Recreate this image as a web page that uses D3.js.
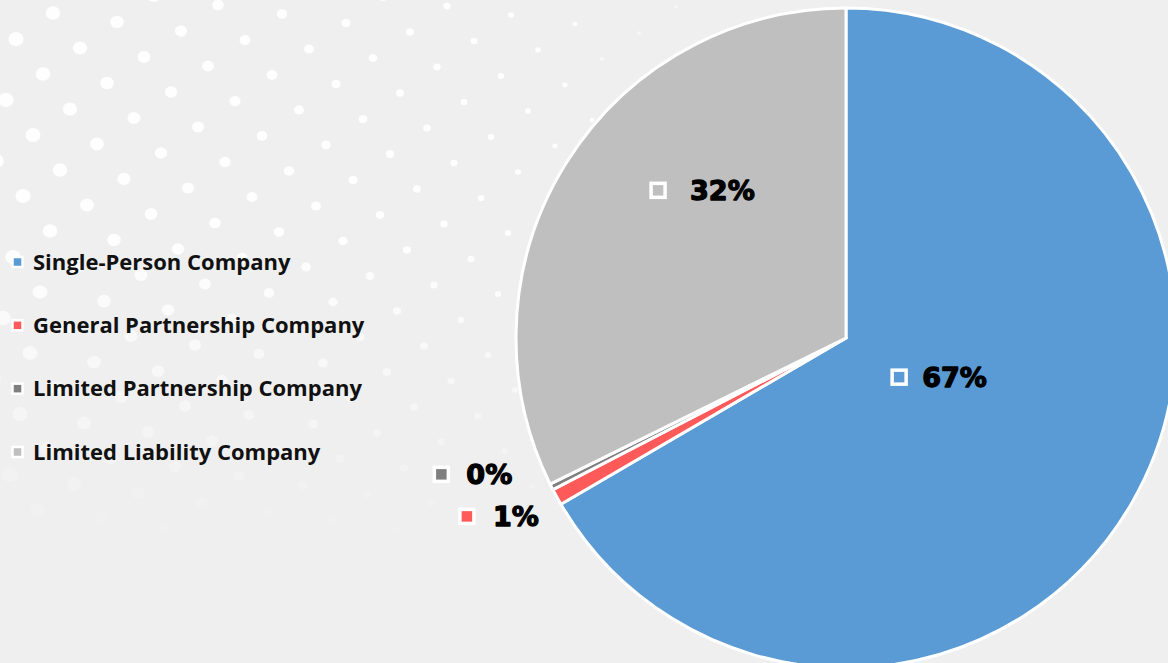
<!DOCTYPE html>
<html>
<head>
<meta charset="utf-8">
<script src="https://cdn.jsdelivr.net/npm/d3@7"></script>
<style>
  html, body { margin: 0; padding: 0; background: #efefef; }
  svg { display: block; }
</style>
</head>
<body>
<div id="chart"></div>
<script>
// chart data
const categories = ["Single-Person Company", "General Partnership Company", "Limited Partnership Company", "Limited Liability Company"];
const shares = [66.6, 0.8, 0.3, 32.3];
const colors = ["#5b9bd5", "#ff5a5a", "#7f7f7f", "#bfbfbf"];

const width = 1168, height = 663;
const cx = 846, cy = 338, R = 330;

// where each data label sits: radius from centre and angle shift (deg) from slice middle
const labelLayout = [
  { r: 66, shift: 6.5, gap: 23 },
  { r: 419, shift: 3.6, gap: 26 },
  { r: 427, shift: 8.2, gap: 25 },
  { r: 239, shift: 6.3, gap: 32 }
];

const svg = d3.select("#chart").append("svg")
  .attr("width", width)
  .attr("height", height);

svg.append("rect").attr("width", width).attr("height", height).attr("fill", "#efefef");

// decorative dot pattern in the background
const dots = [];
for (let i = -12; i < 22; i++) {
  for (let j = -4; j < 26; j++) {
    const x = 53 + i * 64 - j * 37;
    const y = 13 + i * 9 + j * 26;
    if (x < -10 || x > width + 10 || y < -10 || y > 600) continue;
    const rad = 7.2 - x * 0.0085;
    const op = y < 250 ? 1 : Math.max(0, 1 - (y - 250) / 300);
    if (rad < 1.2 || op <= 0.05) continue;
    dots.push({ x, y, rad, op: op * (x > 600 ? 0.6 : 1) });
  }
}
svg.append("g").selectAll("ellipse").data(dots).join("ellipse")
  .attr("cx", d => d.x).attr("cy", d => d.y)
  .attr("rx", d => d.rad * 1.08).attr("ry", d => d.rad)
  .attr("fill", "#ffffff")
  .attr("opacity", d => d.op * 0.9);

// pie
const pie = d3.pie().sort(null).value(d => d);
const arcs = pie(shares);
const arc = d3.arc().innerRadius(0).outerRadius(R);

const g = svg.append("g").attr("transform", `translate(${cx},${cy})`);
g.selectAll("path").data(arcs).join("path")
  .attr("d", arc)
  .attr("fill", (d, i) => colors[i])
  .attr("stroke", "#ffffff")
  .attr("stroke-width", 3)
  .attr("stroke-linejoin", "round");

// data labels
const labels = g.selectAll("g.lbl").data(arcs).join("g")
  .attr("class", "lbl")
  .attr("transform", (d, i) => {
    const L = labelLayout[i];
    const a = (d.startAngle + d.endAngle) / 2 + L.shift * Math.PI / 180;
    const p = d3.arc().innerRadius(L.r).outerRadius(L.r).startAngle(a).endAngle(a).centroid();
    return `translate(${p[0]},${p[1]})`;
  });

labels.append("rect")
  .attr("x", -7).attr("y", -7)
  .attr("width", 14).attr("height", 14)
  .attr("fill", (d, i) => colors[i])
  .attr("stroke", "#ffffff")
  .attr("stroke-width", 3.5);

labels.append("text")
  .attr("x", (d, i) => labelLayout[i].gap)
  .attr("dy", "0.37em")
  .attr("font-family", "DejaVu Sans")
  .attr("font-weight", "bold")
  .attr("font-size", 27)
  .attr("fill", "#000")
  .attr("stroke", "#000")
  .attr("stroke-width", 1.3)
  .attr("stroke-linejoin", "round")
  .text(d => Math.round(d.data) + "%");

// legend
const ly = d3.scalePoint().domain(categories).range([262, 452]);
const legend = svg.append("g").selectAll("g").data(categories).join("g")
  .attr("transform", d => `translate(0,${ly(d)})`);

legend.append("rect")
  .attr("x", 12.5).attr("y", -5)
  .attr("width", 10).attr("height", 10)
  .attr("fill", (d, i) => colors[i])
  .attr("stroke", "#ffffff")
  .attr("stroke-width", 2.5);

legend.append("text")
  .attr("x", 33)
  .attr("dy", "0.35em")
  .attr("font-family", "Open Sans")
  .attr("font-weight", "bold")
  .attr("font-size", 22)
  .attr("fill", "#111")
  .text(d => d);
</script>
</body>
</html>
